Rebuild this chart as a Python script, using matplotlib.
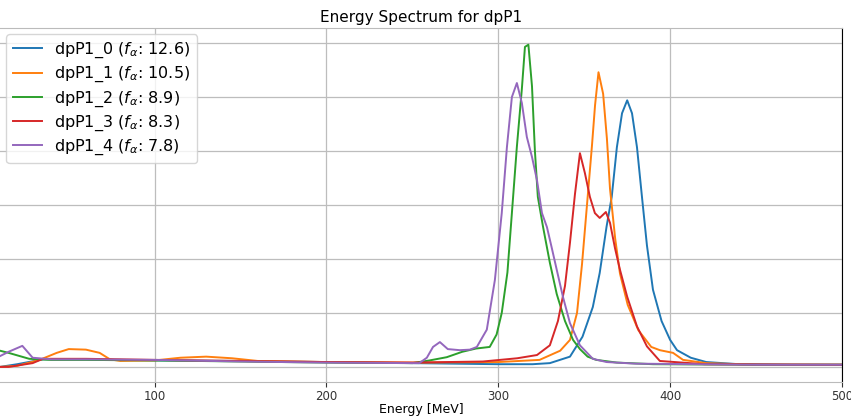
import numpy as np
import matplotlib
matplotlib.use('Agg')
import matplotlib.pyplot as plt

# Kurva spektrum energi (satuan sumbu y sembarang)
labels = ['dpP1_0', 'dpP1_1', 'dpP1_2', 'dpP1_3', 'dpP1_4']
f_alpha = [12.6, 10.5, 8.9, 8.3, 7.8]

energi_0 = [10, 20, 35, 60, 100, 150, 200, 250, 300, 320, 330, 341.7, 349, 355, 359, 363, 366, 369, 372,
            375, 377.8, 380.7, 383.6, 386.5, 390, 395, 400, 404, 412, 421, 440, 470, 500]
jumlah_0 = [0.0, 0.05, 0.14, 0.14, 0.12, 0.11, 0.09, 0.07, 0.05, 0.05, 0.07, 0.19, 0.56, 1.11, 1.74, 2.6,
            3.15, 4.07, 4.7, 4.94, 4.7, 4.07, 3.15, 2.25, 1.43, 0.85, 0.5, 0.31, 0.17, 0.09, 0.05, 0.04, 0.04]

energi_1 = [10, 20, 33, 43, 50, 60, 68, 74, 80, 100, 115, 130, 145, 160, 200, 250, 300, 324, 336, 341.7,
            345.8, 348.7, 351.6, 354.5, 356.3, 358.3, 361, 363.2, 365, 368, 370.8, 375.3, 381.5, 389,
            394, 401.7, 407.5, 421, 450, 500]
jumlah_1 = [0.0, 0.02, 0.13, 0.26, 0.33, 0.32, 0.26, 0.14, 0.11, 0.12, 0.17, 0.19, 0.16, 0.11, 0.09, 0.08,
            0.09, 0.13, 0.3, 0.5, 1.0, 1.9, 3.0, 4.1, 4.85, 5.46, 5.06, 4.23, 3.3, 2.38, 1.73, 1.15,
            0.68, 0.37, 0.31, 0.26, 0.13, 0.07, 0.04, 0.04]

energi_2 = [10, 15, 27, 40, 60, 100, 150, 200, 250, 260, 270, 279, 287, 295, 299, 302, 305.3, 307.9,
            310.8, 313.7, 315.5, 317.5, 319.6, 321.3, 323, 326, 330, 334, 338.8, 343.5, 347.5, 352, 357,
            369, 390, 450, 500]
jumlah_2 = [0.3, 0.26, 0.15, 0.13, 0.13, 0.12, 0.1, 0.08, 0.07, 0.12, 0.18, 0.28, 0.34, 0.37, 0.6, 1.0,
            1.75, 2.85, 4.08, 5.15, 5.93, 5.97, 5.2, 4.0, 3.15, 2.6, 1.93, 1.35, 0.85, 0.5, 0.33, 0.19, 0.13,
            0.08, 0.05, 0.04, 0.04]

energi_3 = [10, 15, 29, 35, 60, 100, 150, 200, 250, 291, 311, 322.5, 330, 334.7, 338.8, 341.7, 344.6,
            347.5, 350.4, 353.3, 356.2, 359, 362.6, 365, 367.9, 370.8, 375, 380.7, 386.5, 394, 420, 500]
jumlah_3 = [0.0, 0.0, 0.07, 0.15, 0.15, 0.13, 0.11, 0.09, 0.08, 0.1, 0.16, 0.22, 0.4, 0.85, 1.5, 2.3,
            3.2, 3.96, 3.59, 3.15, 2.85, 2.76, 2.87, 2.67, 2.2, 1.8, 1.3, 0.75, 0.38, 0.11, 0.05, 0.04]

energi_4 = [10, 15, 23, 29, 40, 60, 100, 150, 200, 250, 254, 258.4, 262, 266, 270.6, 277.6, 283.5, 287.5,
            293.3, 298, 302, 305, 307.9, 310.8, 313.7, 316.6, 319.6, 322.5, 325.4, 328.3, 331, 334,
            337.6, 341.7, 347.5, 355, 363, 380, 450, 500]
jumlah_4 = [0.2, 0.28, 0.39, 0.17, 0.14, 0.14, 0.13, 0.1, 0.08, 0.07, 0.07, 0.17, 0.37, 0.46, 0.33, 0.31,
            0.32, 0.37, 0.69, 1.61, 2.85, 4.07, 5.0, 5.26, 4.89, 4.26, 3.89, 3.46, 2.85, 2.59, 2.22, 1.8,
            1.3, 0.81, 0.4, 0.15, 0.09, 0.06, 0.04, 0.04]

semua_energi = [energi_0, energi_1, energi_2, energi_3, energi_4]
semua_jumlah = [jumlah_0, jumlah_1, jumlah_2, jumlah_3, jumlah_4]

fig = plt.figure(figsize=(8.51, 4.17), dpi=100)
ax = fig.add_axes([0.0, 0.0839, 0.9894, 0.849])

for e, j, lab, fa in zip(semua_energi, semua_jumlah, labels, f_alpha):
    ax.plot(e, j, lw=1.4, label=f'{lab} ($f_\\alpha$: {fa})')

ax.set_xlim(10, 500)
ax.set_ylim(-0.28, 6.28)
ax.set_xticks([100, 200, 300, 400, 500])
ax.set_yticks(range(0, 7))
ax.tick_params(axis='y', left=False, labelleft=False)
ax.tick_params(axis='x', labelsize=8.5, colors='#333333', pad=2.5)
ax.spines['left'].set_visible(False)
for s in ['top', 'bottom']:
    ax.spines[s].set_color('#bbbbbb')
ax.grid(True, color='#bdbdbd', lw=0.9)
ax.set_title('Energy Spectrum for dpP1', fontsize=11, pad=4)
ax.set_xlabel('Energy [MeV]', fontsize=9, labelpad=0)
ax.legend(loc='upper left', fontsize=11.5, labelspacing=0.3, handlelength=1.8,
          borderaxespad=0.4)

plt.savefig('out.png', dpi=100)
